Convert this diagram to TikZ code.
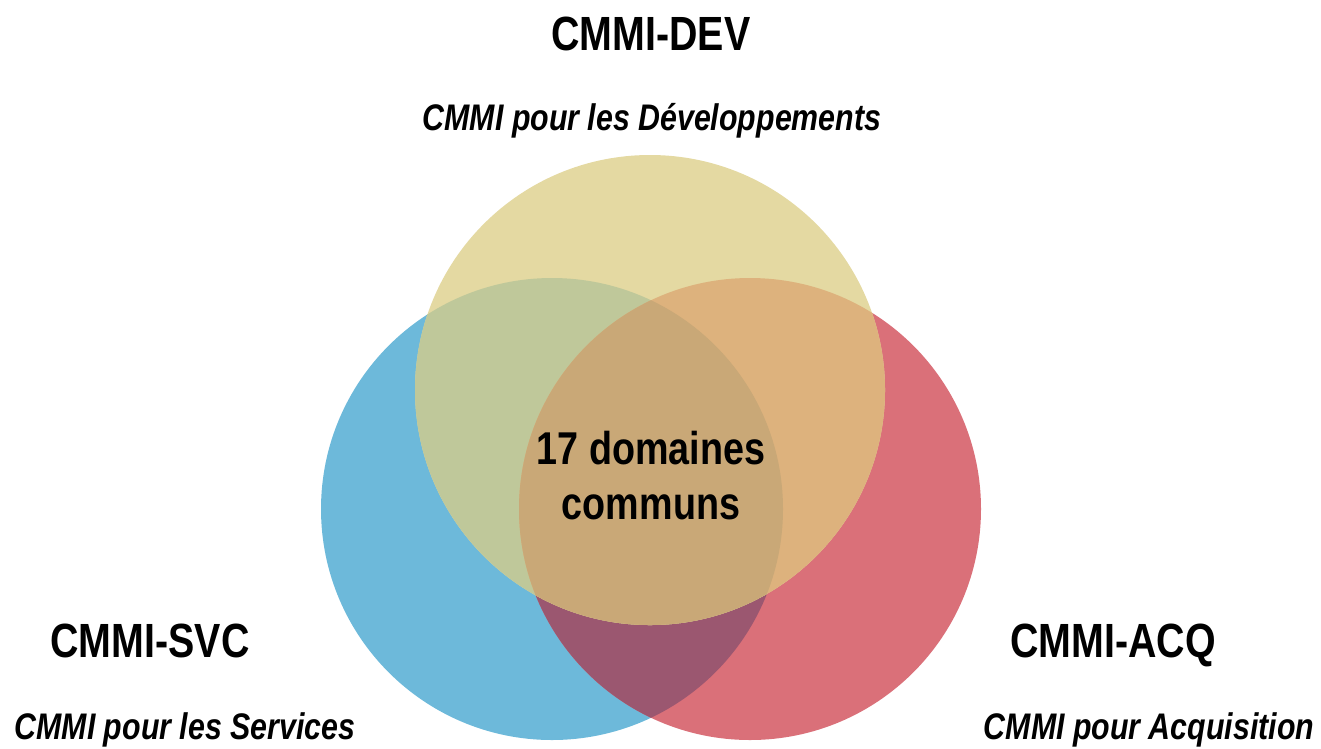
\documentclass[tikz,border=0pt]{standalone}
\usepackage{fontspec}
\newfontfamily\nar{Liberation Sans}[FakeStretch=0.82]
\definecolor{cBlue}{RGB}{109,185,218}
\definecolor{cRed}{RGB}{218,112,121}
\definecolor{cYel}{RGB}{228,217,162}
\definecolor{cDark}{RGB}{155,87,112}
\definecolor{cGreen}{RGB}{191,200,154}
\definecolor{cOrange}{RGB}{221,178,125}
\definecolor{cMid}{RGB}{201,168,119}
\tikzset{
  title/.style={anchor=base, font=\nar\bfseries\fontsize{48}{56}\selectfont},
  subtitle/.style={anchor=base, font=\nar\bfseries\itshape\fontsize{37}{44}\selectfont},
  center text/.style={align=center, font=\nar\bfseries\fontsize{46}{55}\selectfont}
}
\begin{document}
\begin{tikzpicture}[x=1pt,y=-1pt]
\useasboundingbox (0,0) rectangle (1321,748);
\coordinate (B) at (552,509);
\coordinate (R) at (750,509);
\coordinate (Y) at (650,390);
\def\rb{231}
\def\ry{235}
% base circles
\fill[cBlue] (B) circle[radius=\rb];
\fill[cRed] (R) circle[radius=\rb];
\begin{scope}
  \clip (B) circle[radius=\rb];
  \fill[cDark] (R) circle[radius=\rb];
\end{scope}
\fill[cYel] (Y) circle[radius=\ry];
\begin{scope}
  \clip (Y) circle[radius=\ry];
  \fill[cGreen] (B) circle[radius=\rb];
  \fill[cOrange] (R) circle[radius=\rb];
  \clip (B) circle[radius=\rb];
  \fill[cMid] (R) circle[radius=\rb];
\end{scope}
% texts
\node[title] (dev) at (651,50) {CMMI-DEV};
\node[subtitle] (devsub) at (652,130) {CMMI pour les Développements};
\node[title] (svc) at (150,657) {CMMI-SVC};
\node[subtitle] (svcsub) at (185,739) {CMMI pour les Services};
\node[title] (acq) at (1113,657) {CMMI-ACQ};
\node[subtitle] (acqsub) at (1149,739) {CMMI pour Acquisition};
\node[center text] (common) at (651,476) {17 domaines\\communs};
\end{tikzpicture}
\end{document}
